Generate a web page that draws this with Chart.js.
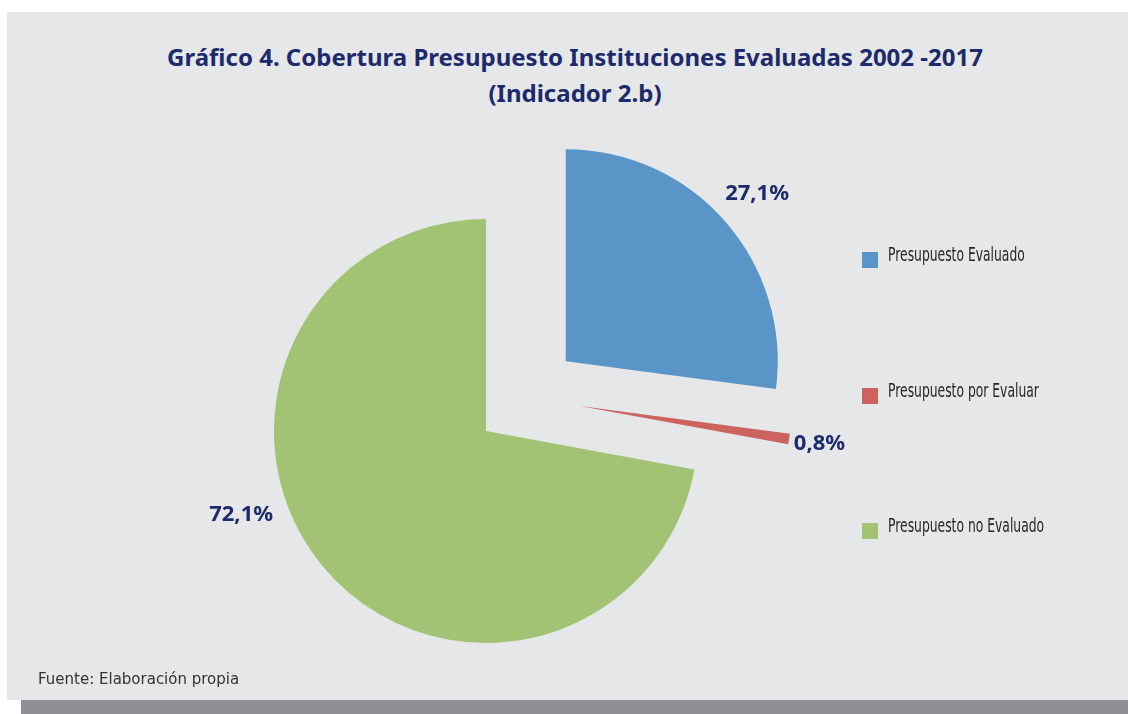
<!DOCTYPE html>
<html lang="es">
<head>
<meta charset="utf-8">
<title>Gráfico 4. Cobertura Presupuesto Instituciones Evaluadas 2002 -2017</title>
<script src="https://cdn.jsdelivr.net/npm/chart.js@4.4.1/dist/chart.umd.min.js"></script>
<style>
    html, body { margin: 0; padding: 0; background: #ffffff; }
    #page { position: relative; width: 1128px; height: 714px; overflow: hidden; }
    #panel { position: absolute; left: 7px; top: 12px; right: 0; height: 688px; background: #e6e7e9; }
    #bar { position: absolute; left: 21px; top: 700px; right: 0; height: 14px; background: #8f9094; }
    #chartBox { position: absolute; left: 0; top: 0; width: 1128px; height: 714px; }
    #title {
        position: absolute; left: 11px; width: 1128px; top: 39px;
        text-align: center; color: #1d2a6c;
        font-family: "Noto Sans", "DejaVu Sans", sans-serif; font-weight: bold;
        font-size: 24px; line-height: 36px;
    }
    #legend { position: absolute; left: 862px; top: 0; }
    .leg-item { position: absolute; left: 0; white-space: nowrap; }
    .leg-box { position: absolute; left: 0; top: 0; width: 16px; height: 16px; }
    .leg-text {
        position: absolute; left: 26px; top: -8px;
        font-family: "DejaVu Sans", sans-serif; font-size: 19px; line-height: 20px;
        color: #262626; transform: scaleX(0.65); transform-origin: 0 0;
    }
    #source {
        position: absolute; left: 38px; top: 670px; line-height: 18px;
        font-family: "DejaVu Sans", sans-serif; font-size: 15px; color: #333333;
    }
</style>
</head>
<body>
<div id="page">
    <div id="panel"></div>
    <div id="bar"></div>
    <div id="title">Gráfico 4. Cobertura Presupuesto Instituciones Evaluadas 2002 -2017<br>(Indicador 2.b)</div>
    <div id="chartBox"><canvas id="pieChart"></canvas></div>
    <div id="legend"></div>
    <div id="source">Fuente: Elaboración propia</div>
</div>
<script>
// --- data -------------------------------------------------------------------
const categories = ['Presupuesto Evaluado', 'Presupuesto por Evaluar', 'Presupuesto no Evaluado'];
const shares = [27.1, 0.8, 72.1];
const shareLabels = ['27,1%', '0,8%', '72,1%'];
const sliceColors = ['#5a95c7', '#cb645f', '#a1c373'];

// --- exploded slices: distance (px) and small angle tweak (deg) -------------
const explodeDistance = [106, 97, 0];
const explodeAngleShift = [0, -24, 0];

// --- data label placement: radius factor and angle tweak (deg) ---------------
const labelRadius = [1.2, 1.145, 1.22];
const labelAngleShift = [0, 0, 21];

const rad = d => d * Math.PI / 180;

// centre of a slice after it has been pulled out
function sliceOrigin(arc, i) {
    const mid = (arc.startAngle + arc.endAngle) / 2 + rad(explodeAngleShift[i]);
    return {
        x: arc.x + Math.cos(mid) * explodeDistance[i],
        y: arc.y + Math.sin(mid) * explodeDistance[i]
    };
}

// Draw every arc translated away from the centre (Excel-like explosion)
const explodePlugin = {
    id: 'explode',
    beforeDatasetDraw(chart, args) {
        const ctx = chart.ctx;
        args.meta.data.forEach((arc, i) => {
            const o = sliceOrigin(arc, i);
            ctx.save();
            ctx.translate(o.x - arc.x, o.y - arc.y);
            arc.draw(ctx);
            ctx.restore();
        });
        return false;
    },
    afterDatasetsDraw(chart) {
        const ctx = chart.ctx;
        const meta = chart.getDatasetMeta(0);
        ctx.save();
        ctx.fillStyle = '#1d2a6c';
        ctx.font = 'bold 22px "Noto Sans", "DejaVu Sans", sans-serif';
        ctx.textAlign = 'center';
        ctx.textBaseline = 'middle';
        meta.data.forEach((arc, i) => {
            const o = sliceOrigin(arc, i);
            const a = (arc.startAngle + arc.endAngle) / 2 + rad(labelAngleShift[i]);
            const r = arc.outerRadius * labelRadius[i];
            ctx.fillText(shareLabels[i], o.x + Math.cos(a) * r, o.y + Math.sin(a) * r);
        });
        ctx.restore();
    }
};

new Chart(document.getElementById('pieChart').getContext('2d'), {
    type: 'pie',
    data: {
        labels: categories,
        datasets: [{
            data: shares,
            backgroundColor: sliceColors,
            borderWidth: 0
        }]
    },
    options: {
        responsive: true,
        maintainAspectRatio: false,
        animation: false,
        radius: 212,
        layout: { padding: { left: 0, right: 156, top: 148, bottom: 0 } },
        plugins: {
            legend: { display: false },
            tooltip: { enabled: false }
        }
    },
    plugins: [explodePlugin]
});

// --- legend (HTML) ----------------------------------------------------------
const legendTops = [252, 387.5, 523];
const legend = document.getElementById('legend');
categories.forEach((name, i) => {
    const item = document.createElement('div');
    item.className = 'leg-item';
    item.style.top = legendTops[i] + 'px';
    item.innerHTML = '<div class="leg-box" style="background:' + sliceColors[i] + '"></div>' +
        '<div class="leg-text">' + name + '</div>';
    legend.appendChild(item);
});
</script>
</body>
</html>
